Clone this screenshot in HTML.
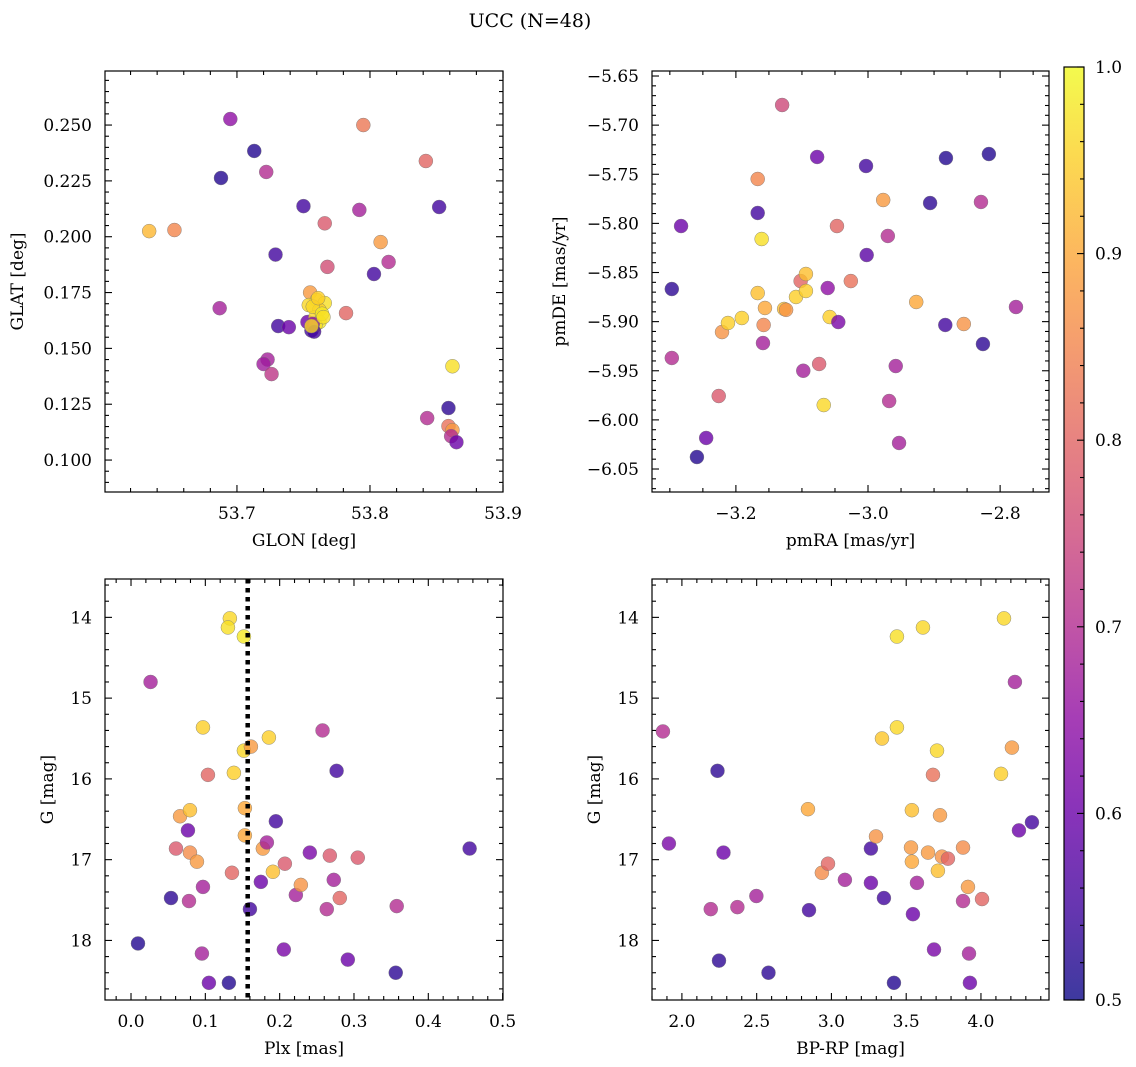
<!DOCTYPE html>
<html><head><meta charset="utf-8">
<style>
html,body{margin:0;padding:0;background:#fff;}
svg{display:block;font-family:"DejaVu Serif","Liberation Serif",serif;}
</style></head>
<body>
<svg id="fig" width="1136" height="1067" viewBox="0 0 1136 1067" xmlns="http://www.w3.org/2000/svg">
<defs>
<linearGradient id="cbgrad" x1="0" y1="1" x2="0" y2="0">
<stop offset="0" stop-color="#0d0887"/><stop offset="0.1" stop-color="#41049d"/><stop offset="0.2" stop-color="#6a00a8"/><stop offset="0.3" stop-color="#8f0da4"/><stop offset="0.4" stop-color="#b12a90"/><stop offset="0.5" stop-color="#cc4778"/><stop offset="0.6" stop-color="#e16462"/><stop offset="0.7" stop-color="#f2844b"/><stop offset="0.8" stop-color="#fca636"/><stop offset="0.9" stop-color="#fcce25"/><stop offset="1" stop-color="#f0f921"/>
</linearGradient>
</defs>
<text x="530" y="27" text-anchor="middle" font-size="19">UCC (N=48)</text>
</svg>
<script>
// Panel 1: GLON vs GLAT
const p1X=[53.634,53.653,53.695,53.688,53.687,53.713,53.722,53.729,53.731,53.739,53.723,53.720,53.726,53.750,53.766,53.768,53.753,53.756,53.755,53.760,53.766,53.754,53.762,53.759,53.762,53.759,53.795,53.792,53.808,53.803,53.814,53.782,53.842,53.852,53.862,53.843,53.859,53.859,53.862,53.861,53.865,53.757,53.764,53.761,53.757,53.758,53.765,53.756];
const p1Y=[0.2025,0.203,0.2527,0.2263,0.168,0.2384,0.229,0.192,0.160,0.1595,0.145,0.143,0.1385,0.2137,0.206,0.1865,0.1618,0.158,0.175,0.1716,0.1703,0.1694,0.1672,0.164,0.1618,0.1604,0.250,0.212,0.1976,0.1833,0.1887,0.1658,0.2339,0.2133,0.142,0.1188,0.1233,0.1152,0.1134,0.1107,0.108,0.1687,0.1655,0.1725,0.1610,0.1575,0.1640,0.1600];
const p1P=[0.92,0.85,0.65,0.52,0.68,0.52,0.70,0.55,0.55,0.60,0.68,0.67,0.72,0.55,0.78,0.76,0.60,0.55,0.88,0.96,0.97,0.96,0.95,0.96,0.98,0.97,0.83,0.68,0.88,0.55,0.70,0.80,0.80,0.55,0.97,0.70,0.53,0.82,0.88,0.70,0.60,0.96,0.98,0.95,0.65,0.55,0.97,0.96];
// Panel 2: pmRA vs pmDE
const p2X=[-3.259,-3.297,-3.297,-3.283,-3.221,-3.212,-3.191,-3.245,-3.226,-3.167,-3.167,-3.161,-3.167,-3.156,-3.158,-3.159,-3.130,-3.127,-3.124,-3.109,-3.102,-3.094,-3.094,-3.098,-3.077,-3.074,-3.067,-3.061,-3.058,-3.045,-3.047,-3.026,-3.003,-3.002,-2.977,-2.970,-2.968,-2.958,-2.953,-2.927,-2.906,-2.882,-2.883,-2.855,-2.829,-2.826,-2.817,-2.776];
const p2Y=[-6.0378,-5.8668,-5.937,-5.8027,-5.9106,-5.9014,-5.8963,-6.0184,-5.9757,-5.7894,-5.7548,-5.8159,-5.8709,-5.8861,-5.9034,-5.9218,-5.6795,-5.8871,-5.888,-5.8749,-5.8587,-5.8515,-5.8688,-5.950,-5.7324,-5.9431,-5.9849,-5.8658,-5.8953,-5.9004,-5.8027,-5.8587,-5.7416,-5.8322,-5.7762,-5.8128,-5.9808,-5.9452,-6.0235,-5.880,-5.7793,-5.7335,-5.9034,-5.9024,-5.7782,-5.9228,-5.7294,-5.8851];
const p2P=[0.52,0.53,0.70,0.60,0.87,0.95,0.95,0.60,0.78,0.55,0.85,0.97,0.93,0.90,0.85,0.68,0.75,0.93,0.87,0.95,0.80,0.93,0.95,0.68,0.60,0.78,0.96,0.65,0.95,0.62,0.80,0.82,0.55,0.58,0.88,0.70,0.70,0.68,0.68,0.90,0.53,0.52,0.55,0.87,0.70,0.53,0.52,0.68];
// Panel 3: Plx vs G
const p3X=[0.0094,0.0263,0.0538,0.0605,0.066,0.0793,0.0766,0.0793,0.0887,0.078,0.0968,0.0954,0.1048,0.0968,0.1035,0.1317,0.1358,0.1384,0.133,0.1304,0.1519,0.1519,0.1613,0.1532,0.1532,0.160,0.1747,0.1774,0.1828,0.1855,0.1949,0.1909,0.207,0.2056,0.2218,0.2285,0.2406,0.2577,0.2766,0.2675,0.2728,0.2634,0.2809,0.2917,0.3051,0.3562,0.3575,0.4556];
const p3Y=[18.0375,14.8,17.475,16.8625,16.4625,16.3875,16.6375,16.9125,17.025,17.5125,17.3375,18.1625,18.525,15.3625,15.95,18.525,17.1625,15.925,14.0125,14.125,14.2375,15.65,15.6,16.3625,16.7,17.6125,17.275,16.8625,16.7875,15.4875,16.525,17.15,17.05,18.1125,17.4375,17.3125,16.9125,15.4,15.9,16.95,17.25,17.6125,17.475,18.2375,16.975,18.4,17.575,16.8625];
const p3P=[0.52,0.68,0.53,0.78,0.88,0.93,0.60,0.86,0.88,0.70,0.68,0.68,0.60,0.95,0.80,0.52,0.80,0.95,0.96,0.97,0.98,0.96,0.88,0.90,0.90,0.55,0.60,0.88,0.68,0.95,0.55,0.93,0.78,0.62,0.68,0.87,0.62,0.70,0.55,0.78,0.68,0.70,0.80,0.60,0.78,0.53,0.70,0.55];
// Panel 4: BP-RP vs G
const p4X=[1.873,1.913,2.193,2.238,2.248,2.278,2.371,2.498,2.579,2.843,2.85,2.936,2.977,3.09,3.264,3.264,3.298,3.338,3.351,3.418,3.438,3.438,3.532,3.538,3.538,3.545,3.572,3.612,3.646,3.679,3.712,3.706,3.726,3.739,3.779,3.686,3.88,3.88,3.92,3.926,3.913,4.007,4.134,4.154,4.207,4.227,4.254,4.341];
const p4Y=[15.4125,16.8,17.6125,15.9,18.25,16.9125,17.5875,17.45,18.4,16.375,17.625,17.1625,17.05,17.25,16.8625,17.2875,16.7125,15.5,17.475,18.525,14.2375,15.3625,16.85,16.3875,17.025,17.675,17.2875,14.125,16.9125,15.95,17.1375,15.65,16.45,16.9625,16.9875,18.1125,16.85,17.5125,18.1625,18.525,17.3375,17.4875,15.9375,14.0125,15.6125,14.8,16.6375,16.5375];
const p4P=[0.70,0.62,0.70,0.53,0.53,0.60,0.70,0.68,0.53,0.90,0.55,0.86,0.80,0.68,0.55,0.60,0.87,0.94,0.55,0.52,0.97,0.96,0.88,0.93,0.90,0.60,0.68,0.96,0.88,0.82,0.93,0.96,0.88,0.87,0.80,0.62,0.86,0.70,0.68,0.60,0.88,0.80,0.95,0.96,0.88,0.68,0.60,0.55];
const plxLine=0.157;
const cbTicks=[0.5,0.6,0.7,0.8,0.9,1.0];

const NS='http://www.w3.org/2000/svg';
const svg=document.getElementById('fig');
const stops=[[13,8,135],[65,4,157],[106,0,168],[143,13,164],[177,42,144],[204,71,120],[225,100,98],[242,132,75],[252,166,54],[252,206,37],[240,249,33]];
function plasma(p){let t=Math.max(0,Math.min(1,(p-0.5)/0.5))*10;let i=Math.min(9,Math.floor(t));let f=t-i;let a=stops[i],b=stops[i+1];return 'rgb('+a.map((v,k)=>Math.round(v+(b[k]-v)*f)).join(',')+')';}
function el(tag,attrs,parent){const e=document.createElementNS(NS,tag);for(const k in attrs)e.setAttribute(k,attrs[k]);(parent||svg).appendChild(e);return e;}

function panel(o){
  const g=el('g',{});
  
  
  const sx=v=>o.x0+(v-o.xmin)/(o.xmax-o.xmin)*(o.x1-o.x0);
  const sy=o.invert? v=>o.y0+(v-o.ymin)/(o.ymax-o.ymin)*(o.y1-o.y0) : v=>o.y1-(v-o.ymin)/(o.ymax-o.ymin)*(o.y1-o.y0);
  const pg=el('g',{},g);
  
  
  for(let i=0;i<o.xs.length;i++){
    const c=el('circle',{cx:sx(o.xs[i]),cy:sy(o.ys[i]),r:7,fill:plasma(o.ps[i]),'fill-opacity':0.8,stroke:'#777','stroke-width':0.5,'stroke-opacity':0.8},pg);
    
    
  }
  if(o.vline!==undefined){
    const l=el('line',{x1:sx(o.vline),x2:sx(o.vline),y1:o.y0,y2:o.y1,stroke:'#000','stroke-width':4.5,'stroke-dasharray':'4.5,4.5'},g);
    
    
  }
  const f=el('rect',{x:o.x0,y:o.y0,width:o.x1-o.x0,height:o.y1-o.y0,fill:'none',stroke:'#000','stroke-width':1.2},g);
  
  
  const xr=Math.round(o.xmajor/o.xminor), yr=Math.round(o.ymajor/o.yminor);
  for(let k=Math.ceil(o.xmin/o.xminor-1e-6); k<=Math.floor(o.xmax/o.xminor+1e-6); k++){
    const v=k*o.xminor, x=sx(v), maj=((k%xr)+xr)%xr===0, L=maj?7:4;
    el('line',{x1:x,x2:x,y1:o.y1,y2:o.y1-L,stroke:'#000','stroke-width':1.1},g);
    el('line',{x1:x,x2:x,y1:o.y0,y2:o.y0+L,stroke:'#000','stroke-width':1.1},g);
    if(maj){const t=el('text',{x:x,y:o.y1+27,'text-anchor':'middle','font-size':17},g);t.textContent=o.xfmt(v);
      }
  }
  for(let k=Math.ceil(o.ymin/o.yminor-1e-6); k<=Math.floor(o.ymax/o.yminor+1e-6); k++){
    const v=k*o.yminor, y=sy(v), maj=((k%yr)+yr)%yr===0, L=maj?7:4;
    el('line',{x1:o.x0,x2:o.x0+L,y1:y,y2:y,stroke:'#000','stroke-width':1.1},g);
    el('line',{x1:o.x1,x2:o.x1-L,y1:y,y2:y,stroke:'#000','stroke-width':1.1},g);
    if(maj){const t=el('text',{x:o.x0-13,y:y+6,'text-anchor':'end','font-size':17},g);t.textContent=o.yfmt(v);
      }
  }
  const xl=el('text',{x:(o.x0+o.x1)/2,y:o.y1+54,'text-anchor':'middle','font-size':17},g);xl.textContent=o.xlabel;
  
  const yx=o.x0-o.ylabOff, yy=(o.y0+o.y1)/2;
  const yl=el('text',{x:yx,y:yy,'text-anchor':'middle','font-size':17,transform:'rotate(-90 '+yx+' '+yy+')'},g);yl.textContent=o.ylabel;
  
}
const fmtN=d=>v=>(Math.abs(v)<1e-9?0:v).toFixed(d).replace('-','\u2212');
panel({name:'glon-glat-panel',x0:105,x1:503,y0:71,y1:492,xmin:53.6008,xmax:53.9,ymin:0.0857,ymax:0.2742,xmajor:0.1,xminor:0.02,ymajor:0.025,yminor:0.005,xfmt:fmtN(1),yfmt:fmtN(3),xs:p1X,ys:p1Y,ps:p1P,xlabel:'GLON [deg]',ylabel:'GLAT [deg]',ylabOff:82});
panel({name:'pm-panel',x0:652,x1:1049,y0:71,y1:492,xmin:-3.327,xmax:-2.726,ymin:-6.0734,ymax:-5.6449,xmajor:0.2,xminor:0.05,ymajor:0.05,yminor:0.01,xfmt:fmtN(1),yfmt:fmtN(2),xs:p2X,ys:p2Y,ps:p2P,xlabel:'pmRA [mas/yr]',ylabel:'pmDE [mas/yr]',ylabOff:87});
panel({name:'plx-g-panel',x0:105,x1:503,y0:579,y1:1000,xmin:-0.035,xmax:0.5005,ymin:13.525,ymax:18.7375,invert:true,xmajor:0.1,xminor:0.02,ymajor:1,yminor:0.2,xfmt:fmtN(1),yfmt:fmtN(0),xs:p3X,ys:p3Y,ps:p3P,vline:plxLine,xlabel:'Plx [mas]',ylabel:'G [mag]',ylabOff:52});
panel({name:'cmd-panel',x0:652,x1:1049,y0:579,y1:1000,xmin:1.80,xmax:4.455,ymin:13.525,ymax:18.7375,invert:true,xmajor:0.5,xminor:0.1,ymajor:1,yminor:0.2,xfmt:fmtN(1),yfmt:fmtN(0),xs:p4X,ys:p4Y,ps:p4P,xlabel:'BP-RP [mag]',ylabel:'G [mag]',ylabOff:52});

const cb=el('g',{});


el('rect',{x:1064,y:67,width:20,height:933,fill:'url(#cbgrad)','fill-opacity':0.8},cb);
el('rect',{x:1064,y:67,width:20,height:933,fill:'none',stroke:'#000','stroke-width':1.2},cb);
const cy=v=>1000-(v-0.5)/0.5*933;
for(let k=25;k<=50;k++){const v=k/50,y=cy(v),maj=k%5===0;
  el('line',{x1:1084,x2:1084-(maj?7:4),y1:y,y2:y,stroke:'#000','stroke-width':1.1},cb);}
cbTicks.forEach(v=>{const t=el('text',{x:1095,y:cy(v)+6,'font-size':17},cb);t.textContent=v.toFixed(1);
  });
</script>
</body></html>
